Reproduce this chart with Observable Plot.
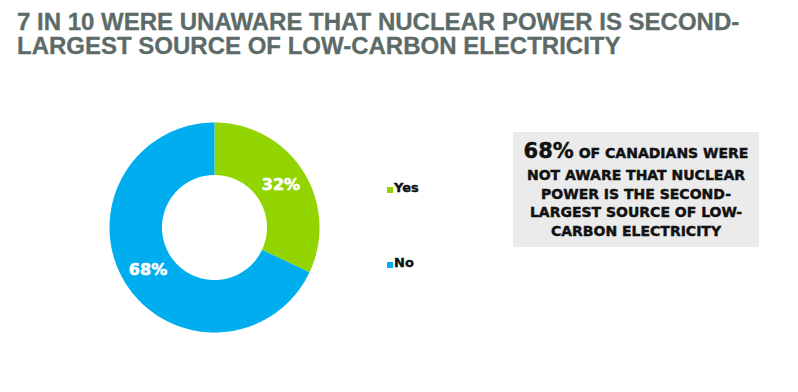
<!DOCTYPE html>
<html>
<head>
<meta charset="utf-8">
<script src="https://cdn.jsdelivr.net/npm/d3@7"></script>
<script src="https://cdn.jsdelivr.net/npm/@observablehq/plot@0.6"></script>
<style>
  html, body { margin:0; padding:0; background:#fff; width:798px; height:392px; overflow:hidden; position:relative; }
  .title { position:absolute; left:17px; font-family:"Liberation Sans Narrow","Liberation Sans",sans-serif; font-weight:bold; font-size:24px; line-height:23px; color:#5c6b68; white-space:nowrap; -webkit-text-stroke:0.3px #5c6b68; }
  #chart { position:absolute; left:0; top:66px; }
  .leg { position:absolute; font-family:"DejaVu Sans",sans-serif; font-weight:bold; font-size:13px; line-height:15px; color:#111; -webkit-text-stroke:0.4px #111; }
  .sw { position:absolute; width:6px; height:6px; }
  #box { position:absolute; left:513px; top:132px; width:246px; height:115px; background:#ebebeb; text-align:center; font-family:"DejaVu Sans",sans-serif; font-weight:bold; color:#111; -webkit-text-stroke:0.45px #111; }
  #box .l { position:absolute; left:0; width:246px; font-size:14px; line-height:16px; white-space:nowrap; }
  #box .first { line-height:22px; }
  #box .big { font-size:21px; }
</style>
</head>
<body>
<div id="titlebox"></div>
<div id="chart"></div>
<div id="legend"></div>
<div id="box"></div>
<script>
const titleLines = ["7 IN 10 WERE UNAWARE THAT NUCLEAR POWER IS SECOND-", "LARGEST SOURCE OF LOW-CARBON ELECTRICITY"];
const slices = ["Yes", "No"];
const values = [32, 68];
const sliceLabels = ["32%", "68%"];
const colors = ["#92d400", "#00aeef"];
const boxHighlight = "68%";
const boxLines = ["OF CANADIANS WERE", "NOT AWARE THAT NUCLEAR", "POWER IS THE SECOND-", "LARGEST SOURCE OF LOW-", "CARBON ELECTRICITY"];

// title
const tb = document.getElementById("titlebox");
titleLines.forEach((t, i) => {
  const d = document.createElement("div");
  d.className = "title"; d.style.top = (10 + 24 * i) + "px"; d.textContent = t;
  tb.appendChild(d);
});

// ring geometry (unit outer radius)
const innerR = 0.5;
const total = d3.sum(values);
const pts = [];
const labs = [];
let acc = 0;
values.forEach((v, i) => {
  const a0 = acc / total * 2 * Math.PI;
  acc += v;
  const a1 = acc / total * 2 * Math.PI;
  const n = Math.max(8, Math.ceil((a1 - a0) / (Math.PI / 180)));
  for (let k = 0; k <= n; k++) {
    const a = a0 + (a1 - a0) * k / n;
    pts.push({slice: slices[i], x: Math.sin(a), y: Math.cos(a)});
  }
  for (let k = n; k >= 0; k--) {
    const a = a0 + (a1 - a0) * k / n;
    pts.push({slice: slices[i], x: innerR * Math.sin(a), y: innerR * Math.cos(a)});
  }
  const am = (a0 + a1) / 2, rm = (1 + innerR) / 2;
  labs.push({slice: slices[i], text: sliceLabels[i], x: rm * Math.sin(am), y: rm * Math.cos(am)});
});

const W = 798, H = 326, cx = 214, cy = 161, R = 105;
const chart = Plot.plot({
  width: W, height: H, margin: 0,
  x: {domain: [-cx / R, (W - cx) / R], axis: null},
  y: {domain: [-(H - cy) / R, cy / R], axis: null},
  color: {domain: slices, range: colors},
  style: {background: "transparent"},
  marks: [
    Plot.line(pts, {x: "x", y: "y", z: "slice", fill: "slice", stroke: "none"}),
    Plot.text(labs, {x: "x", y: "y", text: "text", fill: "white", stroke: "white", strokeWidth: 0.6, fontSize: 16, fontWeight: "bold", fontFamily: "DejaVu Sans, sans-serif"})
  ]
});
document.getElementById("chart").appendChild(chart);

// legend
const leg = document.getElementById("legend");
const legTop = [180, 255];
slices.forEach((s, i) => {
  const sw = document.createElement("div");
  sw.className = "sw"; sw.style.left = "387px"; sw.style.top = (legTop[i] + 7) + "px"; sw.style.background = colors[i];
  leg.appendChild(sw);
  const t = document.createElement("div");
  t.className = "leg"; t.style.left = "394px"; t.style.top = legTop[i] + "px"; t.textContent = s;
  leg.appendChild(t);
});

// callout box
const box = document.getElementById("box");
const tops = [8, 35, 54, 72, 91];
boxLines.forEach((l, i) => {
  const d = document.createElement("div");
  d.className = "l" + (i === 0 ? " first" : ""); d.style.top = tops[i] + "px";
  if (i === 0) d.innerHTML = '<span class="big">' + boxHighlight + '</span> ' + l;
  else d.textContent = l;
  box.appendChild(d);
});
</script>
</body>
</html>
